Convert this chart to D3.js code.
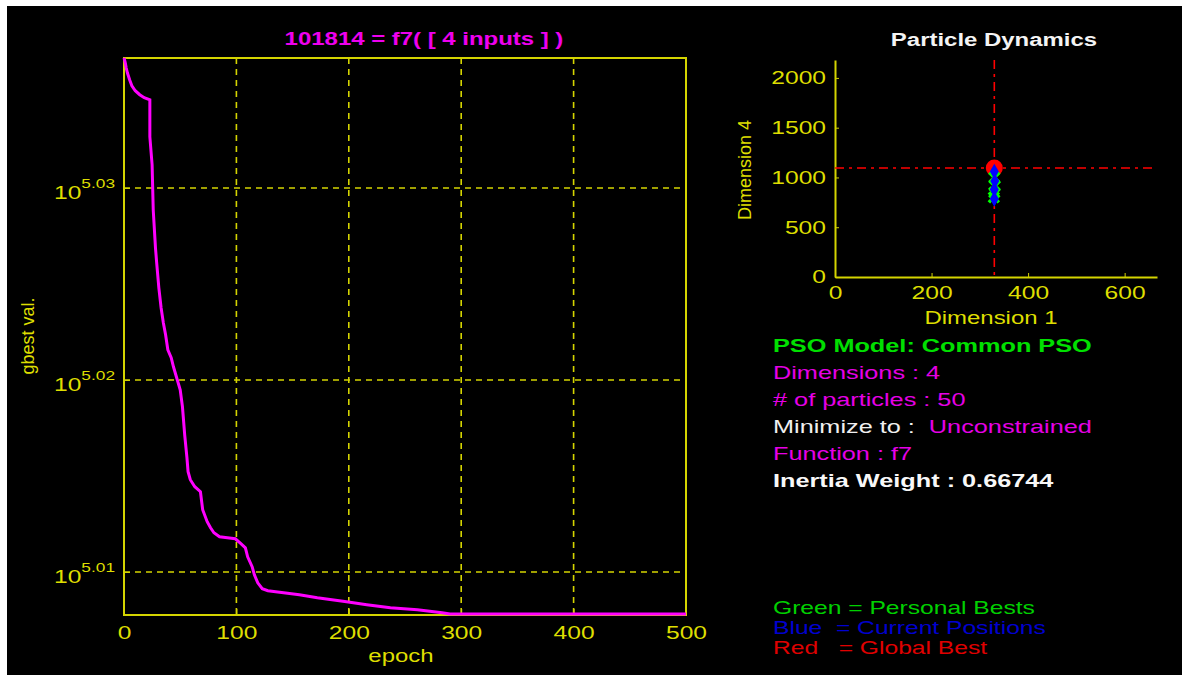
<!DOCTYPE html>
<html>
<head>
<meta charset="utf-8">
<script src="https://cdn.jsdelivr.net/npm/d3@7"></script>
<style>
  body { margin: 0; background: #fff; }
  svg { display: block; font-family: "Liberation Sans", Arial, sans-serif; }
  .axis path, .axis line { stroke: #d4d400; }
  .axis text { fill: #dede00; font-size: 18.5px; }
</style>
</head>
<body>
<div id="graf"></div>
<script>
// Datos: mejor valor global por época
const epocas = [0, 1, 2, 3, 5, 7, 10, 14, 18, 23, 23, 25, 26, 28, 29, 31, 33, 35, 37, 39, 42, 44, 50, 52, 54, 56, 57, 59, 63, 68, 70, 74, 77, 80, 85, 92, 99, 103, 108, 110, 114, 116, 119, 123, 128, 142, 156, 172, 198, 216, 237, 261, 283, 290, 500]
const gbest = [108836, 108783, 108705, 108643, 108552, 108474, 108409, 108357, 108318, 108292, 107812, 107451, 106872, 106386, 106208, 105877, 105624, 105434, 105283, 105093, 104993, 104879, 104590, 104377, 104027, 103741, 103567, 103468, 103381, 103319, 103096, 102948, 102874, 102812, 102763, 102751, 102738, 102689, 102627, 102516, 102394, 102295, 102197, 102124, 102099, 102075, 102050, 102014, 101964, 101928, 101891, 101867, 101830, 101814, 101814]
const xTicks = [0, 100, 200, 300, 400, 500]
const yTicksExp = [5.01, 5.02, 5.03]

// Partículas (Dimensión 1, Dimensión 4)
const mejorGlobal = [330, 1095]
const mejoresPersonales = [[330, 1000], [331, 915], [330, 850], [329, 800]]
const posicionesActuales = [[330, 1060], [331, 965], [330, 880], [330, 785]]
const dimXTicks = [0, 200, 400, 600]
const dimYTicks = [0, 500, 1000, 1500, 2000]

// Textos del panel
const infoLineas = [
  [{ t: "PSO Model: Common PSO", c: "#00e000", b: true }],
  [{ t: "Dimensions : 4", c: "#e600e6" }],
  [{ t: "# of particles : 50", c: "#e600e6" }],
  [{ t: "Minimize to :  ", c: "#f0f0f0" }, { t: "Unconstrained", c: "#e600e6" }],
  [{ t: "Function : f7", c: "#e600e6" }],
  [{ t: "Inertia Weight : 0.66744", c: "#f8f8f8", b: true }],
]
const leyenda = [
  { t: "Green = Personal Bests", c: "#00d000" },
  { t: "Blue  = Current Positions", c: "#0000d0" },
  { t: "Red   = Global Best", c: "#e00000" },
]

const W = 1182, H = 675
const ESTIRA = 1.33 // el original está estirado en horizontal
const svg = d3.select("#graf").append("svg").attr("width", W).attr("height", H)

svg.append("rect")
  .attr("x", 7).attr("y", 6)
  .attr("width", W - 7).attr("height", H - 6)
  .attr("fill", "#000")

// ---------- Gráfica principal ----------
const m = { left: 124, right: 686, top: 58, bottom: 615 }

const x = d3.scaleLinear().domain([0, 500]).range([m.left, m.right])
const y = d3.scaleLog()
  .domain([Math.pow(10, 5.00776), Math.pow(10, 5.03677)])
  .range([m.bottom, m.top])

const yVals = yTicksExp.map((e) => Math.pow(10, e))

// Rejilla
const grid = svg.append("g")
grid.selectAll("line.gx")
  .data(xTicks.slice(1, -1))
  .join("line")
  .attr("x1", (d) => x(d)).attr("x2", (d) => x(d))
  .attr("y1", m.top).attr("y2", m.bottom)
grid.selectAll("line.gy")
  .data(yVals)
  .join("line")
  .attr("x1", m.left).attr("x2", m.right)
  .attr("y1", (d) => y(d)).attr("y2", (d) => y(d))
grid.selectAll("line")
  .attr("stroke", "#d4d400")
  .attr("stroke-width", 1.6)
  .attr("stroke-dasharray", "6,5")

// Ejes
const xAxis = d3.axisBottom(x).tickValues(xTicks).tickSize(-6).tickPadding(11)
const yAxis = d3.axisLeft(y).tickValues(yVals).tickSize(-6).tickPadding(9).tickFormat(() => "")

svg.append("g")
  .attr("transform", `translate(0, ${m.bottom})`)
  .classed("axis", true)
  .call(xAxis)
  .call((g) => g.select(".domain").remove())

const yAxisGroup = svg.append("g")
  .attr("transform", `translate(${m.left}, 0)`)
  .classed("axis", true)
  .call(yAxis)
  .call((g) => g.select(".domain").remove())

yAxisGroup.selectAll(".tick text")
  .attr("dy", "0.55em")
  .each(function (d) {
    const t = d3.select(this)
    t.append("tspan").text("10")
    t.append("tspan").attr("dy", "-0.8em").attr("font-size", "13px")
      .text(Math.log10(d).toFixed(2))
  })

// Caja
svg.append("rect")
  .attr("x", m.left).attr("y", m.top)
  .attr("width", m.right - m.left).attr("height", m.bottom - m.top)
  .attr("fill", "none")
  .attr("stroke", "#d4d400")
  .attr("stroke-width", 2)

// Línea de gbest
const serie = epocas.map((e, i) => ({ e, v: gbest[i] }))
svg.append("path")
  .datum(serie)
  .attr("fill", "none")
  .attr("stroke", "#ff00ff")
  .attr("stroke-width", 3)
  .attr("d", d3.line().x((d) => x(d.e)).y((d) => y(d.v)))

svg.append("text")
  .attr("x", 424).attr("y", 45)
  .attr("text-anchor", "middle")
  .attr("fill", "#ee00ee")
  .attr("font-size", "18px")
  .attr("font-weight", "bold")
  .text("101814 = f7( [ 4 inputs ] )")

svg.append("text")
  .attr("x", 401).attr("y", 662)
  .attr("text-anchor", "middle")
  .attr("fill", "#dede00")
  .attr("font-size", "18px")
  .text("epoch")

svg.append("text")
  .attr("class", "rot")
  .attr("transform", "translate(34, 336) rotate(-90)")
  .attr("text-anchor", "middle")
  .attr("fill", "#dede00")
  .attr("font-size", "18px")
  .text("gbest val.")

// ---------- Dinámica de partículas ----------
const p = { left: 835, right: 1157, top: 60, bottom: 277 }

const px = d3.scaleLinear().domain([0, 667]).range([p.left, p.right])
const py = d3.scaleLinear().domain([0, 2180]).range([p.bottom, p.top])

svg.append("g")
  .attr("transform", `translate(0, ${p.bottom})`)
  .classed("axis", true)
  .call(d3.axisBottom(px).tickValues(dimXTicks).tickSize(-4).tickPadding(9).tickSizeOuter(0).tickFormat(d3.format("d")))
  .call((g) => g.select(".domain").attr("stroke-width", 2))

svg.append("g")
  .attr("transform", `translate(${p.left}, 0)`)
  .classed("axis", true)
  .call(d3.axisLeft(py).tickValues(dimYTicks).tickSize(-4).tickPadding(9).tickSizeOuter(0).tickFormat(d3.format("d")))
  .call((g) => g.select(".domain").attr("stroke-width", 2))

// Líneas del mejor global
svg.append("line")
  .attr("x1", px(mejorGlobal[0])).attr("x2", px(mejorGlobal[0]))
  .attr("y1", p.top).attr("y2", p.bottom)
  .attr("stroke", "#ff0000").attr("stroke-width", 1.6)
  .attr("stroke-dasharray", "9,5,3,5")
svg.append("line")
  .attr("x1", p.left).attr("x2", p.right)
  .attr("y1", py(mejorGlobal[1])).attr("y2", py(mejorGlobal[1]))
  .attr("stroke", "#ff0000").attr("stroke-width", 1.6)
  .attr("stroke-dasharray", "9,5,3,5")

// Marcadores
svg.append("circle")
  .attr("cx", px(mejorGlobal[0])).attr("cy", py(mejorGlobal[1]))
  .attr("r", 7.5)
  .attr("fill", "#ff0000")
  .attr("stroke", "#ff0000").attr("stroke-width", 2)

svg.selectAll("path.pb")
  .data(mejoresPersonales)
  .join("path")
  .attr("class", "pb")
  .attr("transform", (d) => `translate(${px(d[0])}, ${py(d[1])})`)
  .attr("d", "M-5,-5L5,5M-5,5L5,-5")
  .attr("stroke", "#00ff00").attr("stroke-width", 3.5)

svg.selectAll("path.cp")
  .data(posicionesActuales)
  .join("path")
  .attr("class", "cp")
  .attr("transform", (d) => `translate(${px(d[0])}, ${py(d[1])})`)
  .attr("d", d3.symbol(d3.symbolDiamond, 70))
  .attr("fill", "#0000ff")

svg.append("text")
  .attr("x", 994).attr("y", 46)
  .attr("text-anchor", "middle")
  .attr("fill", "#f4f4f4")
  .attr("font-size", "18px")
  .attr("font-weight", "bold")
  .text("Particle Dynamics")

svg.append("text")
  .attr("x", 991).attr("y", 324)
  .attr("text-anchor", "middle")
  .attr("fill", "#dede00")
  .attr("font-size", "18px")
  .text("Dimension 1")

svg.append("text")
  .attr("class", "rot")
  .attr("transform", "translate(751, 170) rotate(-90)")
  .attr("text-anchor", "middle")
  .attr("fill", "#dede00")
  .attr("font-size", "18px")
  .text("Dimension 4")

// Panel de información
const info = svg.append("g")
infoLineas.forEach((linea, i) => {
  const t = info.append("text")
    .attr("x", 773).attr("y", 352 + i * 27)
    .attr("font-size", "19px")
    .attr("xml:space", "preserve")
  linea.forEach((s) => {
    t.append("tspan")
      .attr("fill", s.c)
      .attr("font-weight", s.b ? "bold" : "normal")
      .text(s.t)
  })
})

svg.selectAll("text.ley")
  .data(leyenda)
  .join("text")
  .attr("class", "ley")
  .attr("x", 773)
  .attr("y", (d, i) => 614 + i * 20)
  .attr("font-size", "18.5px")
  .attr("xml:space", "preserve")
  .attr("fill", (d) => d.c)
  .text((d) => d.t)

// Estirar texto horizontal
svg.selectAll("text:not(.rot)").each(function () {
  const l = this.getComputedTextLength()
  d3.select(this)
    .attr("textLength", l * ESTIRA)
    .attr("lengthAdjust", "spacingAndGlyphs")
})
</script>
</body>
</html>
